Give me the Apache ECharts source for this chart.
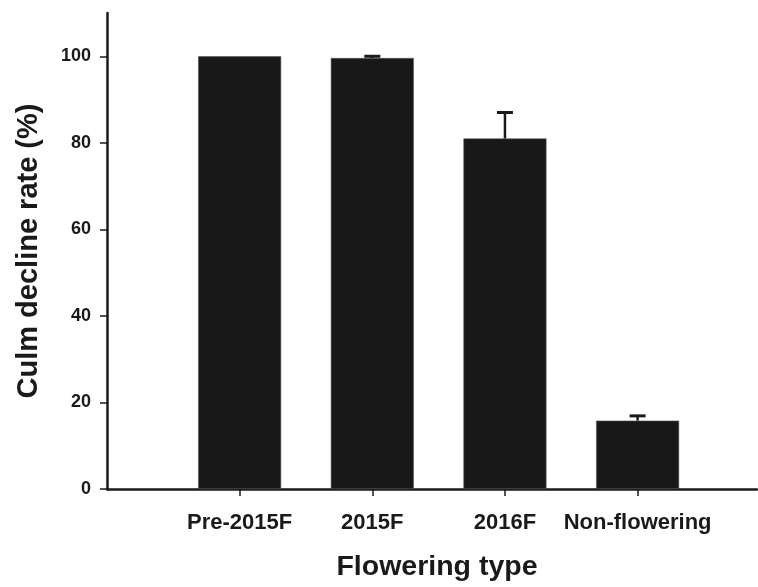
<!DOCTYPE html>
<html>
<head>
<meta charset="utf-8">
<script src="https://cdn.jsdelivr.net/npm/echarts@6/dist/echarts.min.js"></script>
<style>
html,body{margin:0;padding:0;background:#fff;}
#chart{width:758px;height:587px;}
</style>
</head>
<body>
<div id="chart"></div>
<script>
const categories = ['Pre-2015F', '2015F', '2016F', 'Non-flowering'];
const declineRate = [100, 99.6, 81, 15.8];
const errorUpper = [0, 0.4, 6, 1.1];
const yTicks = [0, 20, 40, 60, 80, 100];
const xTitle = 'Flowering type';
const yTitle = 'Culm decline rate (%)';

const ink = '#1a1a1a';
const font = "'Liberation Sans', Arial, Helvetica, sans-serif";
const xPos = categories.map((c, i) => i + 1);

const barData = declineRate.map((v, i) => [xPos[i], v]);
const errData = declineRate.map((v, i) => [xPos[i], v, v + errorUpper[i]]);

const chart = echarts.init(document.getElementById('chart'), null, {renderer: 'canvas'});
chart.setOption({
  animation: false,
  backgroundColor: '#fff',
  grid: {left: 107, right: 1, top: 13, bottom: 95.5, containLabel: false},
  xAxis: {
    type: 'value',
    min: 0,
    max: 4.9,
    interval: 1,
    splitLine: {show: false},
    axisLine: {show: true, onZero: false, lineStyle: {color: ink, width: 2.5}},
    axisTick: {show: true, inside: false, length: 7, customValues: xPos, lineStyle: {color: ink, width: 1.5}},
    axisLabel: {
      show: true, margin: 23, customValues: xPos,
      fontFamily: font, fontWeight: 'bold', fontSize: 22, color: ink,
      formatter: function (v) { return categories[Math.round(v) - 1] || ''; }
    },
    name: xTitle,
    nameLocation: 'middle',
    nameGap: 64,
    nameTextStyle: {fontFamily: font, fontWeight: 'bold', fontSize: 28.5, color: ink, padding: [0, 0, 0, 10]}
  },
  yAxis: {
    type: 'value',
    min: 0,
    max: 110,
    interval: 20,
    splitLine: {show: false},
    axisLine: {show: true, lineStyle: {color: ink, width: 2.5}},
    axisTick: {show: true, inside: false, length: 7, customValues: yTicks, lineStyle: {color: ink, width: 1.5}},
    axisLabel: {
      show: true, margin: 16, customValues: yTicks,
      fontFamily: font, fontWeight: 'bold', fontSize: 18, color: ink
    },
    name: yTitle,
    nameLocation: 'middle',
    nameGap: 64,
    nameTextStyle: {fontFamily: font, fontWeight: 'bold', fontSize: 29, color: ink}
  },
  series: [
    {
      type: 'bar',
      data: barData,
      barWidth: 83,
      itemStyle: {color: '#181818', borderColor: '#555', borderWidth: 0.6},
      z: 2
    },
    {
      type: 'custom',
      data: errData,
      z: 3,
      renderItem: function (params, api) {
        const x = api.value(0);
        const lo = api.coord([x, api.value(1)]);
        const hi = api.coord([x, api.value(2)]);
        if (Math.abs(lo[1] - hi[1]) < 0.5) return null;
        const hw = 8;
        return {
          type: 'group',
          children: [
            {type: 'line', shape: {x1: lo[0], y1: lo[1], x2: hi[0], y2: hi[1]}, style: {stroke: ink, lineWidth: 2.5}},
            {type: 'line', shape: {x1: hi[0] - hw, y1: hi[1], x2: hi[0] + hw, y2: hi[1]}, style: {stroke: ink, lineWidth: 3}}
          ]
        };
      }
    }
  ]
});
</script>
</body>
</html>
